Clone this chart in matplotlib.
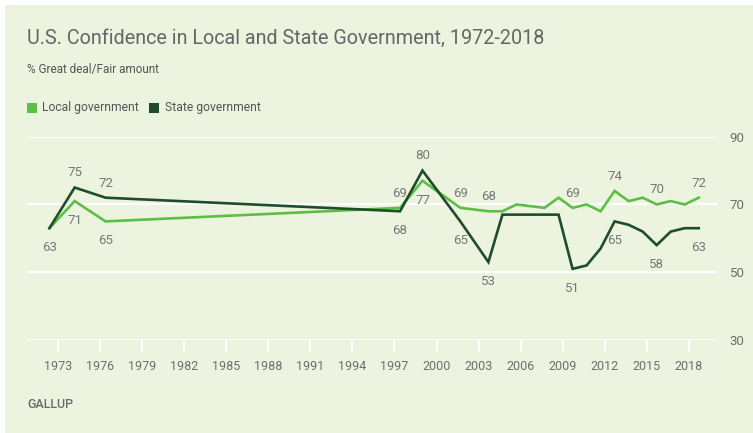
import matplotlib
matplotlib.use('Agg')
import matplotlib.pyplot as plt
from matplotlib.patches import Rectangle

plt.rcParams['font.family'] = ['Roboto', 'DejaVu Sans']

# survey dates (fractional years) and % great deal / fair amount
local_x = [1972.4, 1974.2, 1976.4, 1997.4, 1999.0, 2001.7, 2003.7, 2004.7, 2005.7,
           2006.7, 2007.7, 2008.7, 2009.7, 2010.7, 2011.7, 2012.7, 2013.7, 2014.7,
           2015.7, 2016.7, 2017.7, 2018.7]
local_y = [63, 71, 65, 69, 77, 69, 68, 68, 70, 69.5, 69, 72, 69, 70, 68, 74, 71, 72,
           70, 71, 70, 72]

state_x = [1972.4, 1974.2, 1976.4, 1997.4, 1999.0, 2001.7, 2003.7, 2004.7, 2008.7,
           2009.7, 2010.7, 2011.7, 2012.7, 2013.7, 2014.7, 2015.7, 2016.7, 2017.7,
           2018.7]
state_y = [63, 75, 72, 68, 80, 65, 53, 67, 67, 51, 52, 57, 65, 64, 62, 58, 62, 63, 63]

# which points get a value label, and on which side
local_lab = [(1, 'below'), (2, 'below'), (3, 'above'), (4, 'below'), (5, 'above'),
             (6, 'above'), (12, 'above'), (15, 'above'), (18, 'above'), (21, 'above')]
state_lab = [(0, 'below'), (1, 'above'), (2, 'above'), (3, 'below'), (4, 'above'),
             (5, 'below'), (6, 'below'), (9, 'below'), (12, 'below'), (15, 'below'),
             (18, 'below')]

xticks = list(range(1973, 2019, 3))
yticks = [30, 50, 70, 90]

bg = '#ECF3DF'
c_local = '#5CBF45'
c_state = '#1F4D2C'
txt = '#6E6E6E'

fig = plt.figure(figsize=(7.53, 4.33), dpi=100)
fig.patch.set_facecolor('white')
fig.patches.append(Rectangle((5 / 753, 0), 1, (433 - 5) / 433, transform=fig.transFigure,
                             facecolor=bg, edgecolor='none', zorder=-10))

ax = fig.add_axes([27 / 753, (433 - 340) / 433, 690 / 753, (340 - 136.7) / 433])
ax.set_facecolor(bg)
ax.set_xlim(1970.8, 2020.0)
ax.set_ylim(30, 90)

for y in yticks:
    ax.axhline(y, color='white', lw=1.6, zorder=1)

ax.plot(local_x, local_y, color=c_local, lw=1.9, zorder=3, solid_joinstyle='miter')
ax.plot(state_x, state_y, color=c_state, lw=1.9, zorder=4, solid_joinstyle='miter')

for xs, ys, labs in [(local_x, local_y, local_lab), (state_x, state_y, state_lab)]:
    for i, side in labs:
        off = 10.5 if side == 'above' else -14
        ax.annotate(f'{ys[i]:.0f}', (xs[i], ys[i]), xytext=(0, off),
                    textcoords='offset points', ha='center', va='center',
                    fontsize=9.5, color='#777777')

for s in ax.spines.values():
    s.set_visible(False)

ax.set_xticks(xticks)
ax.tick_params(axis='x', colors='white', length=8.5, width=1.5, pad=6, labelcolor=txt,
               labelsize=9)
ax.yaxis.tick_right()
ax.set_yticks(yticks)
ax.tick_params(axis='y', length=0, pad=9, labelcolor=txt, labelsize=9.5)

fig.text(27 / 753, 1 - 38 / 433, 'U.S. Confidence in Local and State Government, 1972-2018',
         fontsize=14.2, color='#666666', va='center', ha='left')
fig.text(27 / 753, 1 - 69 / 433, '% Great deal/Fair amount', fontsize=8.5, color='#555555',
         va='center', ha='left')

fig.patches.append(Rectangle((27 / 753, 1 - 113 / 433), 10 / 753, 10 / 433,
                             transform=fig.transFigure, facecolor=c_local, edgecolor='none'))
fig.text(42 / 753, 1 - 108 / 433, 'Local government', fontsize=8.7, color='#555555',
         va='center', ha='left')
fig.patches.append(Rectangle((149 / 753, 1 - 113 / 433), 10 / 753, 10 / 433,
                             transform=fig.transFigure, facecolor=c_state, edgecolor='none'))
fig.text(165 / 753, 1 - 108 / 433, 'State government', fontsize=8.7, color='#555555',
         va='center', ha='left')

fig.text(27 / 753, 1 - 404 / 433, 'GALLUP', fontsize=9, color='#6A6A6A',
         va='center', ha='left', fontweight='medium')

fig.savefig('out.png', dpi=100, facecolor=fig.get_facecolor())
